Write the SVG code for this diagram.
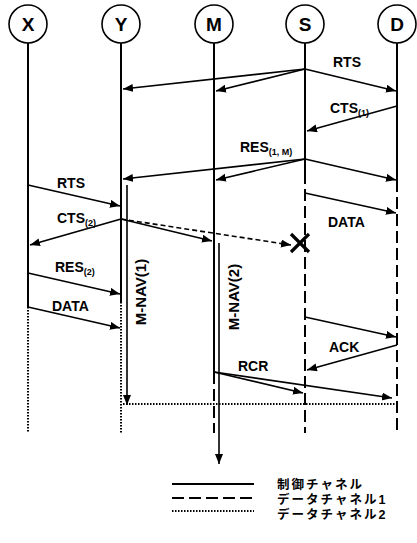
<svg xmlns="http://www.w3.org/2000/svg" width="417" height="543" viewBox="0 0 417 543">
<defs>
<marker id="ah" markerUnits="userSpaceOnUse" markerWidth="11" markerHeight="9" refX="10" refY="4" orient="auto">
<path d="M0,0 L10,4 L0,8 z" fill="#000"/>
</marker>
<style>
.node circle{fill:#fff;stroke:#000;stroke-width:1.6}
.node text{font-family:"Liberation Sans",Arial,sans-serif;font-weight:bold;font-size:19px;text-anchor:middle}
.life{stroke:#000;stroke-width:2;fill:none}
.d1{stroke:#000;stroke-width:2;fill:none;stroke-dasharray:12 5}
.d2{stroke:#000;stroke-width:2;fill:none;stroke-dasharray:1.5 1.5}
.msg{stroke:#000;stroke-width:1.6;fill:none;marker-end:url(#ah)}
.msgd{stroke:#000;stroke-width:1.6;fill:none;stroke-dasharray:5 3;marker-end:url(#ah)}
.lbl{font-family:"Liberation Sans",Arial,sans-serif;font-weight:bold;font-size:14px}
.sub{font-size:9px}
.leg{font-family:"Liberation Sans","Noto Sans CJK JP",sans-serif;font-weight:bold;font-size:12.5px;letter-spacing:2px}
</style>
</defs>

<g id="node-X" class="node"><circle cx="28" cy="24" r="19"/><text x="28" y="31">X</text></g>
<g id="node-Y" class="node"><circle cx="121" cy="24" r="19"/><text x="121" y="31">Y</text></g>
<g id="node-M" class="node"><circle cx="214" cy="24" r="19"/><text x="214" y="31">M</text></g>
<g id="node-S" class="node"><circle cx="305" cy="24" r="19"/><text x="305" y="31">S</text></g>
<g id="node-D" class="node"><circle cx="397" cy="24" r="19"/><text x="397" y="31">D</text></g>

<g id="lifelines">
<line class="life" x1="28" y1="43" x2="28" y2="307"/>
<line class="d2" x1="28" y1="307" x2="28" y2="433"/>
<line class="life" x1="121" y1="43" x2="121" y2="302"/>
<line class="d2" x1="121" y1="302" x2="121" y2="433"/>
<line class="life" x1="214" y1="43" x2="214" y2="372"/>
<line class="d1" x1="214" y1="372" x2="214" y2="433"/>
<line class="life" x1="305" y1="43" x2="305" y2="172"/>
<line class="d1" x1="305" y1="172" x2="305" y2="433"/>
<line class="life" x1="397" y1="43" x2="397" y2="180"/>
<line class="d1" x1="397" y1="180" x2="397" y2="433"/>
</g>

<g id="connectors">
<line class="msg" x1="305" y1="69" x2="123" y2="89"/>
<line class="msg" x1="305" y1="69" x2="216" y2="91"/>
<line class="msg" x1="305" y1="69" x2="396" y2="91"/>
<line class="msg" x1="397" y1="106" x2="307" y2="131"/>
<line class="msg" x1="305" y1="159" x2="123" y2="179"/>
<line class="msg" x1="305" y1="159" x2="216" y2="180"/>
<line class="msg" x1="305" y1="159" x2="396" y2="180"/>
<line class="msg" x1="305" y1="193" x2="396" y2="213"/>
<line class="msg" x1="28" y1="185" x2="120" y2="206"/>
<line class="msg" x1="121" y1="219" x2="30" y2="245"/>
<line class="msg" x1="121" y1="219" x2="212" y2="241"/>
<line class="msgd" x1="121" y1="219" x2="291" y2="245"/>
<line class="msg" x1="28" y1="273" x2="120" y2="294"/>
<line class="msg" x1="28" y1="307" x2="120" y2="328"/>
<line class="msg" x1="127" y1="185" x2="127" y2="405"/>
<line class="msg" x1="219" y1="243" x2="219" y2="464"/>
<line class="msg" x1="305" y1="317" x2="396" y2="337"/>
<line class="msg" x1="397" y1="345" x2="307" y2="370"/>
<line class="msg" x1="214" y1="372" x2="303" y2="393"/>
<line class="msg" x1="214" y1="372" x2="392" y2="398"/>
<line class="d2" x1="123" y1="404" x2="397" y2="404"/>
<g stroke="#000" stroke-width="3.2">
<line x1="291" y1="234" x2="309" y2="252"/>
<line x1="309" y1="234" x2="291" y2="252"/>
</g>
</g>

<g id="labels" class="lbl">
<text x="333" y="67">RTS</text>
<text x="330" y="113">CTS<tspan class="sub" dy="3">(1)</tspan></text>
<text x="240" y="152">RES<tspan class="sub" dy="3">(1, M)</tspan></text>
<text x="57" y="188">RTS</text>
<text x="57" y="223">CTS<tspan class="sub" dy="3">(2)</tspan></text>
<text x="328" y="227">DATA</text>
<text x="55" y="272">RES<tspan class="sub" dy="3">(2)</tspan></text>
<text x="52" y="311">DATA</text>
<text x="329" y="352">ACK</text>
<text x="238" y="371">RCR</text>
<text x="0" y="0" font-size="15" text-anchor="middle" transform="translate(146,292) rotate(-90)">M-NAV(1)</text>
<text x="0" y="0" font-size="15" text-anchor="middle" transform="translate(239,297) rotate(-90)">M-NAV(2)</text>
</g>

<g id="legend">
<line class="life" x1="172" y1="484" x2="254" y2="484"/>
<line class="d1" x1="172" y1="498" x2="254" y2="498" stroke-dasharray="10 5"/>
<line class="d2" x1="172" y1="511" x2="254" y2="511" stroke-width="1.6"/>
<text class="leg" x="277" y="489">制御チャネル</text>
<text class="leg" x="277" y="504">データチャネル1</text>
<text class="leg" x="277" y="519">データチャネル2</text>
</g>
</svg>
